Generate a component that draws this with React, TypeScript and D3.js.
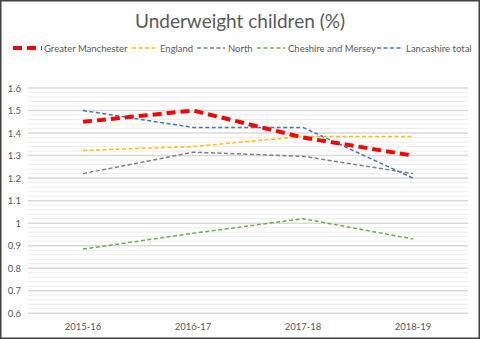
import React from "react";
import * as d3 from "d3";

const categories = ["2015-16", "2016-17", "2017-18", "2018-19"];
const greaterManchester = [1.45, 1.5, 1.38, 1.3];
const england = [1.323, 1.34, 1.385, 1.385];
const north = [1.22, 1.315, 1.297, 1.22];
const cheshireMersey = [0.885, 0.955, 1.02, 0.93];
const lancashire = [1.5, 1.425, 1.425, 1.2];
const yTicks = [0.6, 0.7, 0.8, 0.9, 1, 1.1, 1.2, 1.3, 1.4, 1.5, 1.6];

const seriesList = [
  { name: "Greater Manchester", values: greaterManchester, color: "#FF0000", width: 4, dash: "9,5" },
  { name: "England", values: england, color: "#FFC000", width: 1.5, dash: "4,2.5" },
  { name: "North", values: north, color: "#7F7F7F", width: 1.5, dash: "4,2.5" },
  { name: "Cheshire and Mersey", values: cheshireMersey, color: "#70AD47", width: 1.5, dash: "4,2.5" },
  { name: "Lancashire total", values: lancashire, color: "#4472C4", width: 1.5, dash: "4,2.5" },
];

const legendPos = [
  { x1: 13, x2: 42, tx: 44 },
  { x1: 132, x2: 157, tx: 160 },
  { x1: 197, x2: 225, tx: 228 },
  { x1: 257, x2: 285, tx: 288 },
  { x1: 377, x2: 403, tx: 406 },
];

export default function App() {
  const W = 480, H = 339;
  const x = d3.scaleBand().domain(categories).range([28, 468]);
  const y = d3.scaleLinear().domain([0.6, 1.6]).range([313.3, 88]);
  const minor = d3.range(0.6, 1.6001, 0.02).filter((v) => Math.abs(Math.round(v * 10) - v * 10) > 0.01);
  const line = d3
    .line<number>()
    .x((_, i) => (x(categories[i]) as number) + x.bandwidth() / 2)
    .y((d) => y(d))
    .curve(d3.curveLinear);
  const font = "Lato, 'Open Sans', sans-serif";
  return (
    <svg width={W} height={H} style={{ position: "absolute", left: 0, top: 0 }} fontFamily={font}>
      <rect x={0} y={0} width={W} height={H} fill="#fff" />
      <rect x={0.75} y={0.75} width={W - 1.5} height={H - 1.5} fill="none" stroke="#404040" strokeWidth={1.5} />
      <text x={240} y={28} textAnchor="middle" fontSize={19} fill="#595959">
        Underweight children (%)
      </text>
      {seriesList.map((s, i) => (
        <g key={s.name}>
          <line x1={legendPos[i].x1} x2={legendPos[i].x2} y1={48} y2={48} stroke={s.color} strokeWidth={s.width} strokeDasharray={s.dash} />
          <text x={legendPos[i].tx} y={51.5} fontSize={9.5} fill="#595959">
            {s.name}
          </text>
        </g>
      ))}
      {minor.map((v) => (
        <line key={"m" + v} x1={28} x2={468} y1={y(v)} y2={y(v)} stroke="#EDEDED" strokeWidth={1} />
      ))}
      {yTicks.map((v) => (
        <g key={"t" + v}>
          <line x1={28} x2={468} y1={y(v)} y2={y(v)} stroke="#D9D9D9" strokeWidth={1.5} />
          <text x={21} y={y(v) + 3.5} textAnchor="end" fontSize={9.5} fill="#595959">
            {String(v)}
          </text>
        </g>
      ))}
      {categories.map((c) => (
        <text key={c} x={(x(c) as number) + x.bandwidth() / 2} y={330} textAnchor="middle" fontSize={9.5} fill="#595959">
          {c}
        </text>
      ))}
      {seriesList
        .slice()
        .reverse()
        .map((s) => (
          <path key={s.name} d={line(s.values) || ""} fill="none" stroke={s.color} strokeWidth={s.width} strokeDasharray={s.dash} />
        ))}
    </svg>
  );
}
